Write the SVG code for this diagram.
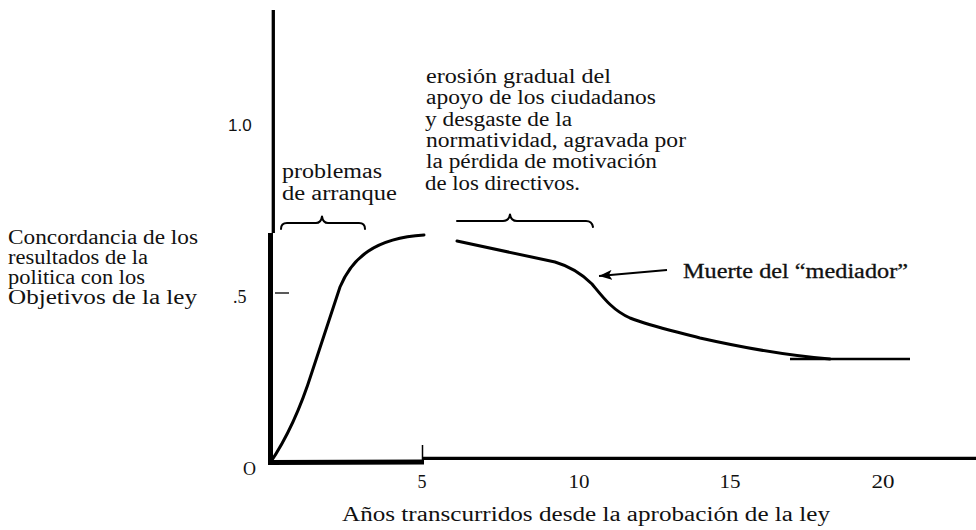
<svg xmlns="http://www.w3.org/2000/svg" width="976" height="530" viewBox="0 0 976 530">
<style>
  .ser { font-family: "Liberation Serif", "Times New Roman", serif; font-size: 20px; fill: #111; }
  .num { font-family: "Liberation Serif", "Times New Roman", serif; font-size: 18px; fill: #111; }
  .sans { font-family: "Liberation Sans", Arial, sans-serif; font-size: 17px; fill: #111; }
  .ax { stroke: #000; fill: none; stroke-linecap: butt; }
  .crv { stroke: #000; fill: none; stroke-width: 3; stroke-linecap: round; stroke-linejoin: round; }
  .brace { stroke: #000; fill: none; stroke-width: 2; stroke-linecap: round; stroke-linejoin: round; }
</style>
<defs>
  <marker id="ah" markerUnits="userSpaceOnUse" markerWidth="14" markerHeight="10" refX="13" refY="5" orient="auto">
    <path d="M0,0 L13,5 L0,10 L3,5 z" fill="#000"/>
  </marker>
</defs>
<rect width="976" height="530" fill="#fff"/>

<g id="axes">
  <line class="ax" x1="273.3" y1="10" x2="273.3" y2="233" stroke-width="3.3"/>
  <line class="ax" x1="270.5" y1="233" x2="270.5" y2="465" stroke-width="5"/>
  <line class="ax" x1="268" y1="462.5" x2="424" y2="462" stroke-width="5"/>
  <line class="ax" x1="422.5" y1="445" x2="422.5" y2="462" stroke-width="1.5"/>
  <line class="ax" x1="423" y1="458.3" x2="976" y2="458.3" stroke-width="3.3"/>
  <line class="ax" x1="275" y1="293" x2="289" y2="293" stroke-width="1.3"/>
</g>

<g id="axis-labels">
  <text class="sans" x="228" y="131">1.0</text>
  <text class="num" x="233" y="303">.5</text>
  <text class="num" x="243" y="475">O</text>
  <text class="num" x="422" y="488" text-anchor="middle">5</text>
  <text class="num" x="579" y="488" text-anchor="middle" textLength="21" lengthAdjust="spacingAndGlyphs">10</text>
  <text class="num" x="730" y="488" text-anchor="middle" textLength="21" lengthAdjust="spacingAndGlyphs">15</text>
  <text class="num" x="883" y="488" text-anchor="middle" textLength="23" lengthAdjust="spacingAndGlyphs">20</text>
  <text class="ser" x="342" y="521" textLength="488" lengthAdjust="spacingAndGlyphs">Años transcurridos desde la aprobación de la ley</text>
  <text class="ser" x="8" y="244" textLength="190" lengthAdjust="spacingAndGlyphs">Concordancia de los</text>
  <text class="ser" x="8" y="264" textLength="140" lengthAdjust="spacingAndGlyphs">resultados de la</text>
  <text class="ser" x="8" y="284" textLength="137" lengthAdjust="spacingAndGlyphs">politica con los</text>
  <text class="ser" x="8" y="304" textLength="189" lengthAdjust="spacingAndGlyphs">Objetivos de la ley</text>
</g>

<g id="curve">
  <path class="crv" d="M270,463 C285,441 300,410 312,372 L340,287 C352,258 375,238 424,235"/>
  <path class="crv" d="M457,241 L555,262 C572,267 582,274 592,284 C602,296 612,310 630,318 C650,326 670,330 700,338 C740,347 780,355 830,359"/>
  <line class="ax" x1="790" y1="359" x2="910" y2="359" stroke-width="2.5"/>
</g>

<g id="braces">
  <path class="brace" d="M281,229 Q281,223 287,223 L316,223 Q321,223 322,216.5 Q323,223 328,223 L359,223 Q365,223 365,229"/>
  <path class="brace" d="M457,221 L503,221 Q509,221 510,214.5 Q511,221 517,221 L586,221 Q592,221 593,227"/>
</g>

<g id="annotations">
  <text class="ser" x="282" y="178" textLength="100" lengthAdjust="spacingAndGlyphs">problemas</text>
  <text class="ser" x="282" y="200" textLength="115" lengthAdjust="spacingAndGlyphs">de arranque</text>
  <text class="ser" x="426" y="83" textLength="185" lengthAdjust="spacingAndGlyphs">erosión gradual del</text>
  <text class="ser" x="426" y="104" textLength="230" lengthAdjust="spacingAndGlyphs">apoyo de los ciudadanos</text>
  <text class="ser" x="425" y="126" textLength="147" lengthAdjust="spacingAndGlyphs">y desgaste de la</text>
  <text class="ser" x="426" y="147" textLength="260" lengthAdjust="spacingAndGlyphs">normatividad, agravada por</text>
  <text class="ser" x="426" y="168" textLength="231" lengthAdjust="spacingAndGlyphs">la pérdida de motivación</text>
  <text class="ser" x="425" y="190" textLength="155" lengthAdjust="spacingAndGlyphs">de los directivos.</text>
</g>

<g id="muerte">
  <line x1="667" y1="270" x2="599" y2="276" stroke="#000" stroke-width="2" marker-end="url(#ah)"/>
  <text class="ser" x="683" y="278" textLength="225" lengthAdjust="spacingAndGlyphs" stroke="#111" stroke-width="0.3">Muerte del “mediador”</text>
</g>
</svg>
